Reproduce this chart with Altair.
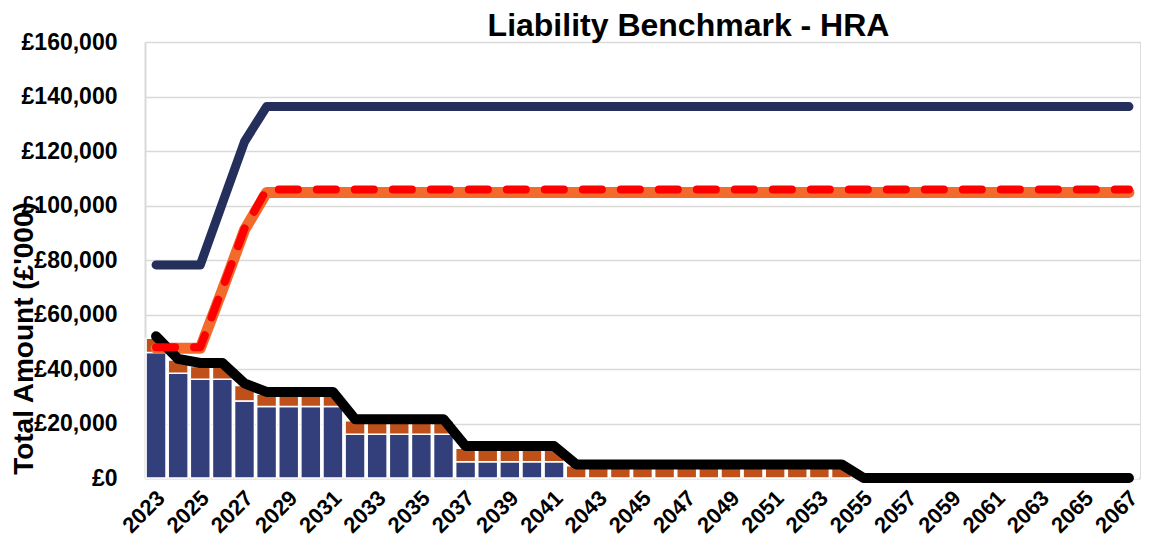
import altair as alt
import pandas as pd

years = list(range(2023, 2068))

# bars (£'000)
navy_bar = [46100, 38400, 36200, 36200, 28300,
            26200, 26200, 26200, 26200,
            16100, 16100, 16100, 16100, 16100,
            6000, 6000, 6000, 6000, 6000,
            0, 0, 0, 0, 0, 0, 0, 0, 0, 0, 0, 0, 0,
            0, 0, 0, 0, 0, 0, 0, 0, 0, 0, 0, 0, 0]
orange_bar = [5200, 4900, 4700, 4700, 5600,
              4500, 4500, 4500, 4500,
              4900, 4900, 4900, 4900, 4900,
              4900, 4900, 4900, 4900, 4900,
              4500, 4500, 4500, 4500, 4500, 4500, 4500, 4500, 4500, 4500, 4500, 4500, 4500,
              0, 0, 0, 0, 0, 0, 0, 0, 0, 0, 0, 0, 0]

# lines (£'000)
navy_line = [78200, 78200, 78200, 100800, 123400] + [136300] * 40
orange_line = [47600, 47600, 47600, 69000, 91000] + [104800] * 40
red_line = [48000, 48000, 48000, 69500, 91500] + [105900] * 40
black_line = [52000, 43700, 42200, 42200, 34700,
              31600, 31600, 31600, 31600,
              21600, 21600, 21600, 21600, 21600,
              11700, 11700, 11700, 11700, 11700,
              5000, 5000, 5000, 5000, 5000, 5000, 5000, 5000, 5000, 5000, 5000, 5000, 5000,
              0, 0, 0, 0, 0, 0, 0, 0, 0, 0, 0, 0, 0]

df = pd.DataFrame({
    "year": years,
    "navy_bar": navy_bar,
    "total_bar": [a + b for a, b in zip(navy_bar, orange_bar)],
    "navy_line": navy_line,
    "orange_line": orange_line,
    "red_line": red_line,
    "black_line": black_line,
})

FONT = "Liberation Sans"

x = alt.X("year:O",
          scale=alt.Scale(paddingInner=0.1, paddingOuter=0.05),
          axis=alt.Axis(title=None, labelAngle=-45, values=years[::2],
                        labelFontSize=22, labelFontWeight="bold", labelFont=FONT,
                        labelColor="black", ticks=False, tickSize=0, labelPadding=9,
                        labelOffset=-2,
                        domainColor="#D9D9D9", domainWidth=2, grid=False))

yscale = alt.Scale(domain=[0, 160000], nice=False)
yaxis = alt.Axis(title="Total Amount (£'000)", values=list(range(0, 160001, 20000)),
                 labelExpr="'£' + format(datum.value, ',')",
                 labelFontSize=23, labelFontWeight="bold", labelFont=FONT,
                 labelColor="black", ticks=False, tickSize=0, labelPadding=28,
                 domainColor="#D9D9D9", domainWidth=2,
                 grid=True, gridColor="#D9D9D9", gridWidth=1.5,
                 titleFontSize=28, titleFontWeight="bold", titleFont=FONT,
                 titleColor="black", titleAngle=270, titleX=-121, titleY=296,
                 titleAlign="center", titleBaseline="middle")

base = alt.Chart(df)

navy_bars = base.mark_bar(color="#323F7B", stroke="white", strokeWidth=1.5).encode(
    x=x, y=alt.Y("navy_bar:Q", scale=yscale, axis=yaxis))
orange_bars = base.mark_bar(color="#C0501A", stroke="white", strokeWidth=1.5).encode(
    x=x, y=alt.Y("navy_bar:Q"), y2="total_bar:Q")

def line(field, color, width, dash=None):
    kw = dict(color=color, strokeWidth=width, strokeCap="round", strokeJoin="round")
    if dash:
        kw["strokeDash"] = dash
    return base.mark_line(**kw).encode(x=x, y=alt.Y(f"{field}:Q"))

chart = alt.layer(
    navy_bars,
    orange_bars,
    line("navy_line", "#252F5C", 9),
    line("orange_line", "#F26A2C", 11),
    line("black_line", "#000000", 10),
    line("red_line", "#FF0000", 8, [19, 19]),
).properties(
    width=995, height=436,
    autosize=alt.AutoSizeParams(type="none"),
    padding={"left": 137, "top": 34, "right": 5, "bottom": 64},
    title=alt.TitleParams("Liability Benchmark - HRA", fontSize=32, fontWeight="bold",
                          font=FONT, color="black", anchor="middle", dx=46, dy=41,
                          baseline="alphabetic", offset=4),
).configure_view(stroke=None).configure(background="white")

chart.save("out.html", embed_options={"renderer": "svg", "actions": False})
